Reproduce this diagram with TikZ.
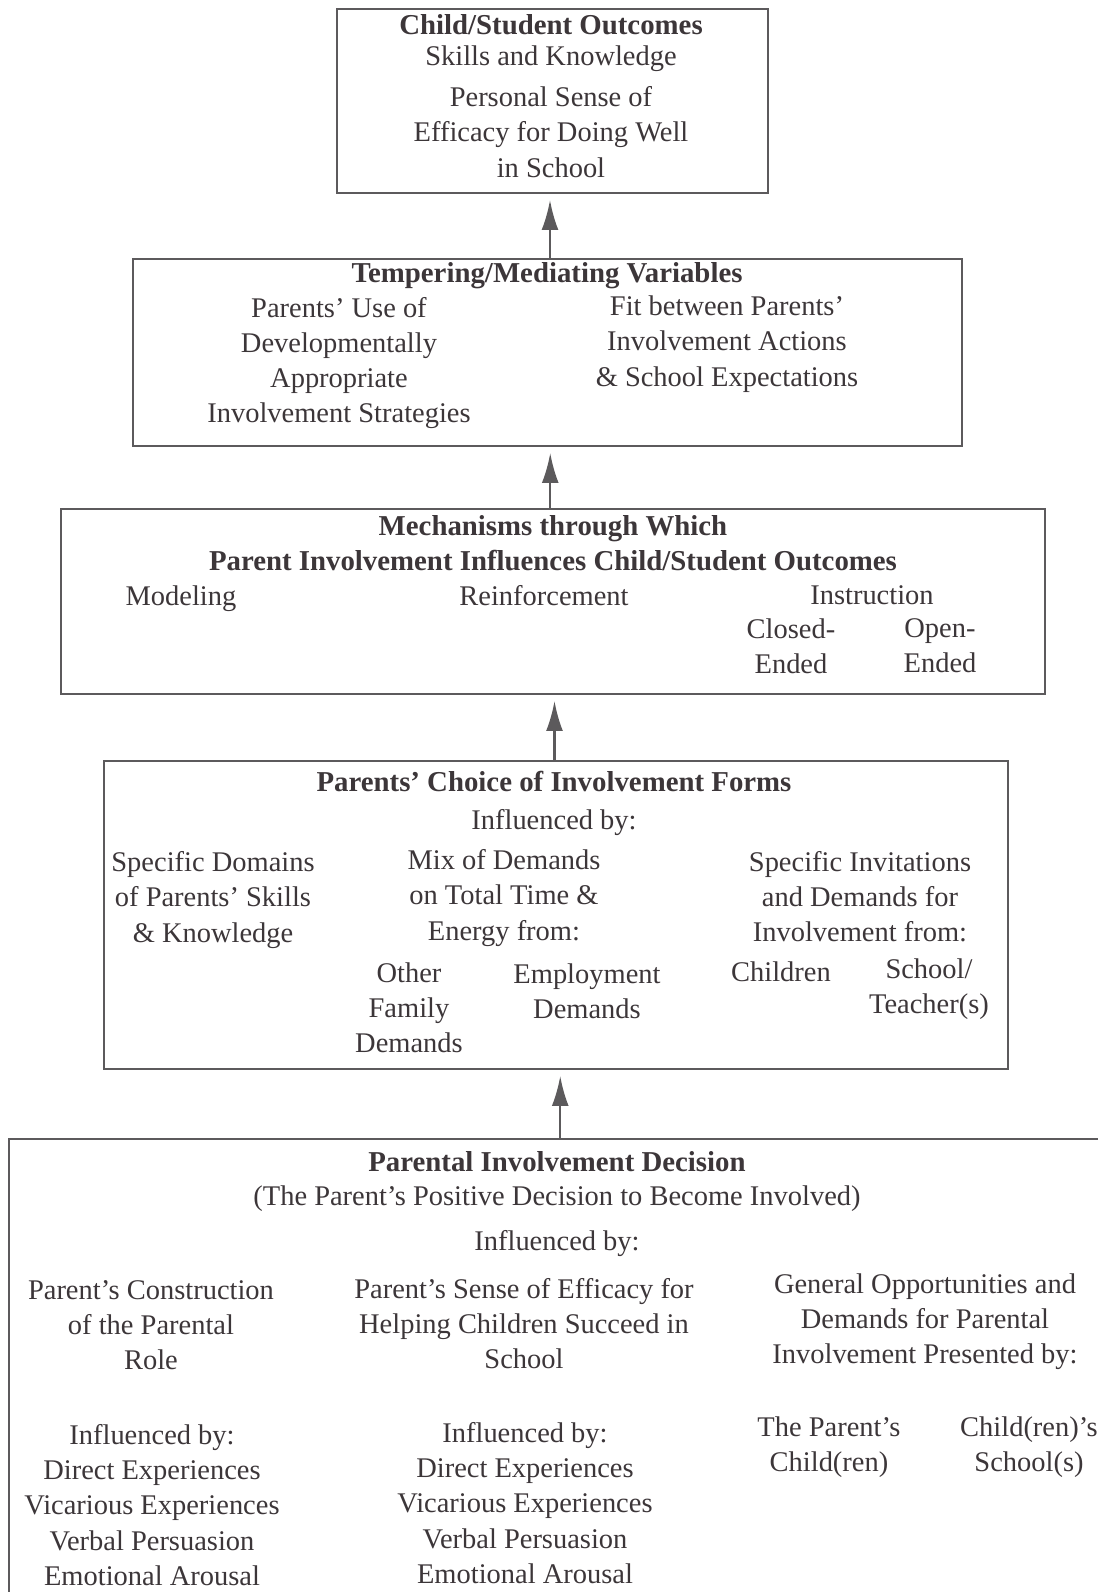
\documentclass[tikz,border=0pt]{standalone}
\usepackage{fontspec}
\setmainfont{Liberation Serif}
\usetikzlibrary{arrows.meta,calc}
\definecolor{ink}{HTML}{3C3639}
\definecolor{rule}{HTML}{5C5A5C}
\tikzset{
  box/.style={draw=rule, line width=0.6pt, rectangle, inner sep=0pt},
  txt/.style={align=center, inner sep=0pt, text=ink},
  head/.style={txt, font=\fontsize{8.2}{10}\selectfont\bfseries},
  rise/.style={draw=rule, line width=0.6pt, -{Latex[length=8.5pt,width=4.8pt]}, shorten >=0.06cm}
}
\begin{document}
\begin{tikzpicture}
    [every node/.style={font=\fontsize{8.1}{10}\selectfont}]
  \useasboundingbox (0,0) rectangle (10.98,-15.92);

  \node[box, minimum width=4.31cm, minimum height=1.84cm] (outcomes) at (5.525,-1.01) {};
  \node[head] (outhead) at (5.51,-0.245) {Child/Student Outcomes};
  \node[txt] (outskills) at (5.51,-0.59) {Skills and Knowledge};
  \node[txt] (outefficacy) at (5.51,-1.32) {Personal Sense of\\Efficacy for Doing Well\\in School};

  \node[box, minimum width=8.29cm, minimum height=1.87cm] (tempering) at (5.475,-3.525) {};
  \node[head] (temphead) at (5.47,-2.76) {Tempering/Mediating Variables};
  \node[txt] (tempuse) at (3.39,-3.63) {Parents' Use of\\Developmentally\\Appropriate\\Involvement Strategies};
  \node[txt] (tempfit) at (7.27,-3.44) {Fit between Parents'\\Involvement Actions\\\& School Expectations};

  \node[box, minimum width=9.84cm, minimum height=1.85cm] (mechanisms) at (5.53,-6.015) {};
  \node[head] (mechhead) at (5.53,-5.43) {Mechanisms through Which\\Parent Involvement Influences Child/Student Outcomes};
  \node[txt] (modeling) at (1.81,-5.99) {Modeling};
  \node[txt] (reinforce) at (5.44,-5.96) {Reinforcement};
  \node[txt] (instruction) at (8.72,-5.95) {Instruction};
  \node[txt] (closed) at (7.91,-6.46) {Closed-\\Ended};
  \node[txt] (open) at (9.40,-6.46) {Open-\\Ended};

  \node[box, minimum width=9.04cm, minimum height=3.08cm] (choice) at (5.56,-9.15) {};
  \node[head] (choicehead) at (5.54,-7.81) {Parents' Choice of Involvement Forms};
  \node[txt] (choiceinfl) at (5.54,-8.23) {Influenced by:};
  \node[txt] (domains) at (2.13,-9.00) {Specific Domains\\of Parents' Skills\\\& Knowledge};
  \node[txt] (mix) at (5.04,-8.98) {Mix of Demands\\on Total Time \&\\Energy from:};
  \node[txt] (invitations) at (8.60,-8.965) {Specific Invitations\\and Demands for\\Involvement from:};
  \node[txt] (family) at (4.09,-10.08) {Other\\Family\\Demands};
  \node[txt] (employment) at (5.87,-9.91) {Employment\\Demands};
  \node[txt] (children) at (7.81,-9.72) {Children};
  \node[txt] (teachers) at (9.29,-9.89) {School/\\Teacher(s)};

  \node[box, minimum width=11.11cm, minimum height=4.71cm] (decision) at (5.645,-13.745) {};
  \node[head] (dechead) at (5.57,-11.62) {Parental Involvement Decision};
  \node[txt] (decsub) at (5.57,-11.99) {(The Parent's Positive Decision to Become Involved)};
  \node[txt] (decinfl) at (5.57,-12.44) {Influenced by:};
  \node[txt] (construction) at (1.51,-13.25) {Parent's Construction\\of the Parental\\Role};
  \node[txt] (efficacy) at (5.24,-13.235) {Parent's Sense of Efficacy for\\Helping Children Succeed in\\School};
  \node[txt] (opportunities) at (9.25,-13.22) {General Opportunities and\\Demands for Parental\\Involvement Presented by:};
  \node[txt] (roleinfl) at (1.52,-15.05) {Influenced by:\\Direct Experiences\\Vicarious Experiences\\Verbal Persuasion\\Emotional Arousal};
  \node[txt] (effinfl) at (5.25,-15.03) {Influenced by:\\Direct Experiences\\Vicarious Experiences\\Verbal Persuasion\\Emotional Arousal};
  \node[txt] (parentchild) at (8.29,-14.47) {The Parent's\\Child(ren)};
  \node[txt] (childschool) at (10.29,-14.47) {Child(ren)'s\\School(s)};

  \foreach \lo/\hi in {tempering/outcomes, mechanisms/tempering, choice/mechanisms, decision/choice}
    \draw[rise] ($(\lo.north)!0.5!(\lo.north -| \hi.south)$) -- ($(\lo.north |- \hi.south)!0.5!(\hi.south)$);
\end{tikzpicture}
\end{document}
